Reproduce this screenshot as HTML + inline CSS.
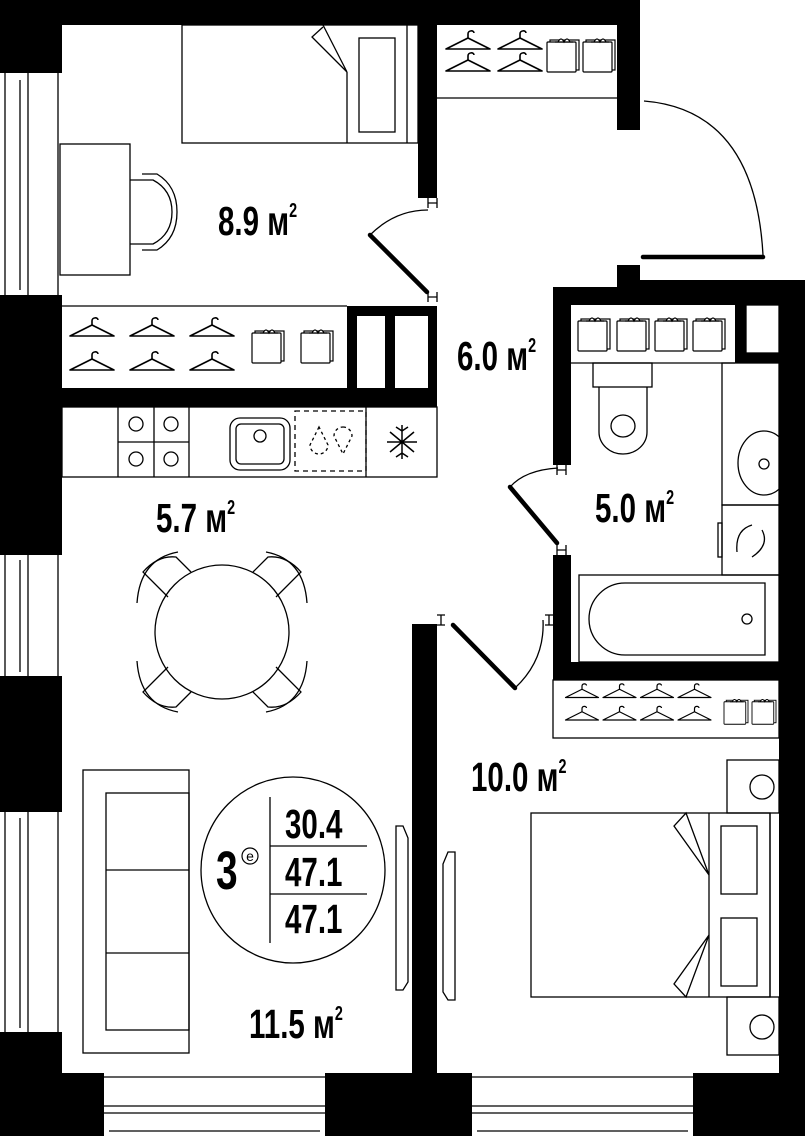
<!DOCTYPE html>
<html><head><meta charset="utf-8"><style>
html,body{margin:0;padding:0;background:#fff}
svg{display:block}
.t{font-family:"Liberation Sans Narrow","Liberation Sans",sans-serif;font-weight:bold;fill:#000}
</style></head><body>
<svg width="805" height="1136" viewBox="0 0 805 1136" xmlns="http://www.w3.org/2000/svg">
<defs>
<g id="h" fill="none" stroke="#000" stroke-width="1.6">
<path d="M2 20 L24 9 L46 20 Z" stroke-linejoin="round"/>
<path d="M24 9 L24 5 C24 1 30 1 30 4"/>
</g>
<g id="b" fill="#fff" stroke="#000" stroke-width="1.2">
<rect x="3" y="3" width="29" height="30"/>
<rect x="0" y="5" width="29" height="30" rx="1"/>
<path d="M11 5 q3 -6 6 0 q3 -6 6 0 M8 5 h18"/>
</g>
</defs>
<g fill="#000">
<rect x="0" y="0" width="640" height="25"/>
<rect x="0" y="0" width="62" height="73"/>
<rect x="617" y="0" width="23" height="130"/>
<rect x="0" y="295" width="62" height="260"/>
<rect x="0" y="676" width="62" height="136"/>
<rect x="0" y="1032" width="62" height="104"/>
<rect x="418" y="25" width="19" height="173"/>
<rect x="347" y="306" width="90" height="82"/>
<rect x="62" y="388" width="375" height="19"/>
<rect x="412" y="624" width="25" height="512"/>
<rect x="62" y="1073" width="42" height="63"/>
<rect x="325" y="1073" width="147" height="63"/>
<rect x="693" y="1073" width="112" height="63"/>
<rect x="617" y="265" width="23" height="25"/>
<rect x="553" y="287" width="252" height="18"/>
<rect x="617" y="280" width="188" height="25"/>
<rect x="553" y="287" width="18" height="178"/>
<rect x="553" y="555" width="18" height="125"/>
<rect x="553" y="662" width="252" height="18"/>
<rect x="779" y="280" width="26" height="795"/>
<rect x="735" y="305" width="44" height="58"/>
</g>
<g fill="#fff">
<rect x="357" y="316" width="28" height="72"/>
<rect x="395" y="316" width="33" height="72"/>
</g>
<g fill="none" stroke="#000" stroke-width="1.3">
<path d="M5 73V295M20 80V290M28 73V295M58 73V295"/>
<path d="M5 555V676M20 560V672M28 555V676M58 555V676"/>
<path d="M5 812V1032M20 818V1028M28 812V1032M58 812V1032"/>
<path d="M104 1077H325M104 1106H325M104 1113H325M109 1131H320M472 1077H693M472 1106H693M472 1113H693M477 1131H688"/>
<path d="M62 306H347"/>
<rect x="62" y="407" width="375" height="70"/>
<path d="M118 407V477M154 407V477M189 407V477M118 442H189M366 407V477"/>
<circle cx="136" cy="424" r="7"/><circle cx="171" cy="424" r="7"/><circle cx="136" cy="459" r="7"/><circle cx="171" cy="459" r="7"/>
<rect x="230" y="418" width="60" height="52" rx="10"/><rect x="236" y="424" width="48" height="40" rx="5"/>
<circle cx="260" cy="436" r="6"/>
<rect x="295" y="411" width="71" height="60" stroke-dasharray="5 4"/>
<path d="M319 427 l-9 18 a9 9 0 0 0 18 0 z" stroke-dasharray="3 3"/>
<path d="M343 427 a9 9 0 0 1 9 9 l-9 18 l-9 -18 a9 9 0 0 1 9 -9z" stroke-dasharray="3 3"/>
<path d="M402 425V459M387 442H417M390 432L414 452M414 432L390 452M396 427l6 4 6-4M396 457l6-4 6 4" stroke-width="1.5"/>
<rect x="182" y="25" width="236" height="118"/>
<path d="M347 72V143M407 25V143"/>
<rect x="359" y="38" width="36" height="94"/>
<path d="M347 72L323 25M347 72L312 37L323 27"/>
<rect x="60" y="144" width="70" height="131"/>
<path d="M130 180H153Q172 190 172 212Q172 234 153 244H130"/>
<path d="M142 174H157Q177 186 177 212Q177 238 157 250H142"/>
<circle cx="222" cy="632" r="67"/>
<path d="M168 597L143 572Q158 555 176 557L191 572"/>
<path d="M276 597L301 572Q286 555 268 557L253 572"/>
<path d="M168 667L143 692Q158 709 176 707L191 692"/>
<path d="M276 667L301 692Q286 709 268 707L253 692"/>
<path d="M137 603Q140 559 178 552M307 603Q304 559 266 552M137 661Q140 705 178 712M307 661Q304 705 266 712"/>
<rect x="83" y="770" width="106" height="283"/>
<rect x="106" y="793" width="83" height="237"/>
<path d="M106 870H189M106 953H189"/>
<ellipse cx="293" cy="870" rx="92" ry="93"/>
<path d="M270 797V943M270 846H367M270 894H367"/>
<path d="M396 826H403L408 838V982L403 990H396Z"/>
<path d="M455 852H448L443 864V992L448 1000H455Z"/>
<rect x="531" y="813" width="239" height="184"/>
<path d="M709 813V997M770 813V997"/>
<rect x="721" y="826" width="36" height="68"/><rect x="721" y="918" width="36" height="68"/>
<path d="M709 875L686 813L674 826L709 875M709 935L686 997L674 984L709 935"/>
<rect x="727" y="760" width="52" height="53"/><circle cx="762" cy="787" r="12"/>
<rect x="727" y="997" width="52" height="58"/><circle cx="762" cy="1027" r="12"/>
<path d="M437 98H617"/>
<path d="M644 101Q755 110 763 255"/>
<rect x="746" y="305" width="33" height="48" fill="#fff"/>
<path d="M571 363H735"/>
<rect x="593" y="363" width="59" height="24"/>
<path d="M599 387V432A24 22 0 0 0 647 432V387"/>
<ellipse cx="623" cy="426" rx="12" ry="11"/>
<rect x="722" y="363" width="57" height="142"/>
<ellipse cx="764" cy="463" rx="26" ry="32"/><circle cx="764" cy="464" r="5"/>
<rect x="722" y="505" width="57" height="70"/>
<rect x="718" y="523" width="4" height="34"/>
<path d="M752 525Q735 530 737 552M762 530Q770 545 752 557"/>
<rect x="579" y="575" width="200" height="87"/>
<path d="M625 583H765V655H625A36 36 0 0 1 625 583Z"/>
<circle cx="747" cy="619" r="5"/>
<rect x="553" y="680" width="226" height="58"/>
<path d="M370 235Q395 210 428 210"/>
<path d="M510 487Q525 470 558 468"/>
<path d="M515 688Q545 660 543 620"/>
<path d="M428 198V208M437 198V208M428 203H437M428 292V302M437 292V302M428 297H437"/>
<path d="M557 465V475M566 465V475M557 470H566M557 545V555M566 545V555M557 550H566"/>
<path d="M437 615H445M437 625H445M441 615V625M545 615H553M545 625H553M549 615V625"/>
</g>
<g stroke="#000" stroke-width="4.5" stroke-linecap="round">
<path d="M370 235L427 292"/>
<path d="M510 487L557 543"/>
<path d="M453 625L515 688"/>
<path d="M643 257H763"/>
</g>
<use href="#h" x="68" y="316"/><use href="#h" x="128" y="316"/><use href="#h" x="188" y="316"/>
<use href="#h" x="68" y="350"/><use href="#h" x="128" y="350"/><use href="#h" x="188" y="350"/>
<use href="#b" x="252" y="328"/><use href="#b" x="301" y="328"/>
<use href="#h" x="444" y="29"/><use href="#h" x="496" y="29"/>
<use href="#h" x="444" y="51"/><use href="#h" x="496" y="51"/>
<use href="#b" x="547" y="37"/><use href="#b" x="583" y="37"/>
<use href="#b" x="578" y="316"/><use href="#b" x="617" y="316"/><use href="#b" x="655" y="316"/><use href="#b" x="693" y="316"/>
<g transform="scale(0.75)">
<use href="#h" x="752" y="910"/><use href="#h" x="802" y="910"/><use href="#h" x="852" y="910"/><use href="#h" x="902" y="910"/>
<use href="#h" x="752" y="940"/><use href="#h" x="802" y="940"/><use href="#h" x="852" y="940"/><use href="#h" x="902" y="940"/>
</g>
<use href="#b" x="724" y="698" transform="translate(724 698) scale(0.75) translate(-724 -698)"/>
<use href="#b" x="752" y="698" transform="translate(752 698) scale(0.75) translate(-752 -698)"/>
<g class="t" font-size="41">
<text transform="translate(218 235) scale(0.72 1)">8.9 м<tspan font-size="20" dy="-18">2</tspan></text>
<text transform="translate(457 370) scale(0.72 1)">6.0 м<tspan font-size="20" dy="-18">2</tspan></text>
<text transform="translate(156 532) scale(0.72 1)">5.7 м<tspan font-size="20" dy="-18">2</tspan></text>
<text transform="translate(595 522) scale(0.72 1)">5.0 м<tspan font-size="20" dy="-18">2</tspan></text>
<text transform="translate(471 791) scale(0.72 1)">10.0 м<tspan font-size="20" dy="-18">2</tspan></text>
<text transform="translate(249 1038) scale(0.72 1)">11.5 м<tspan font-size="20" dy="-18">2</tspan></text>
<text transform="translate(285 838) scale(0.72 1)">30.4</text>
<text transform="translate(285 886) scale(0.72 1)">47.1</text>
<text transform="translate(285 933) scale(0.72 1)">47.1</text>
<text transform="translate(216 889) scale(0.72 1)" font-size="54">3</text>
</g>
<circle cx="250" cy="856" r="8" fill="none" stroke="#000" stroke-width="1.2"/>
<text x="250" y="861" font-family="Liberation Sans, sans-serif" font-size="14" text-anchor="middle">e</text>
</svg>
</body></html>
